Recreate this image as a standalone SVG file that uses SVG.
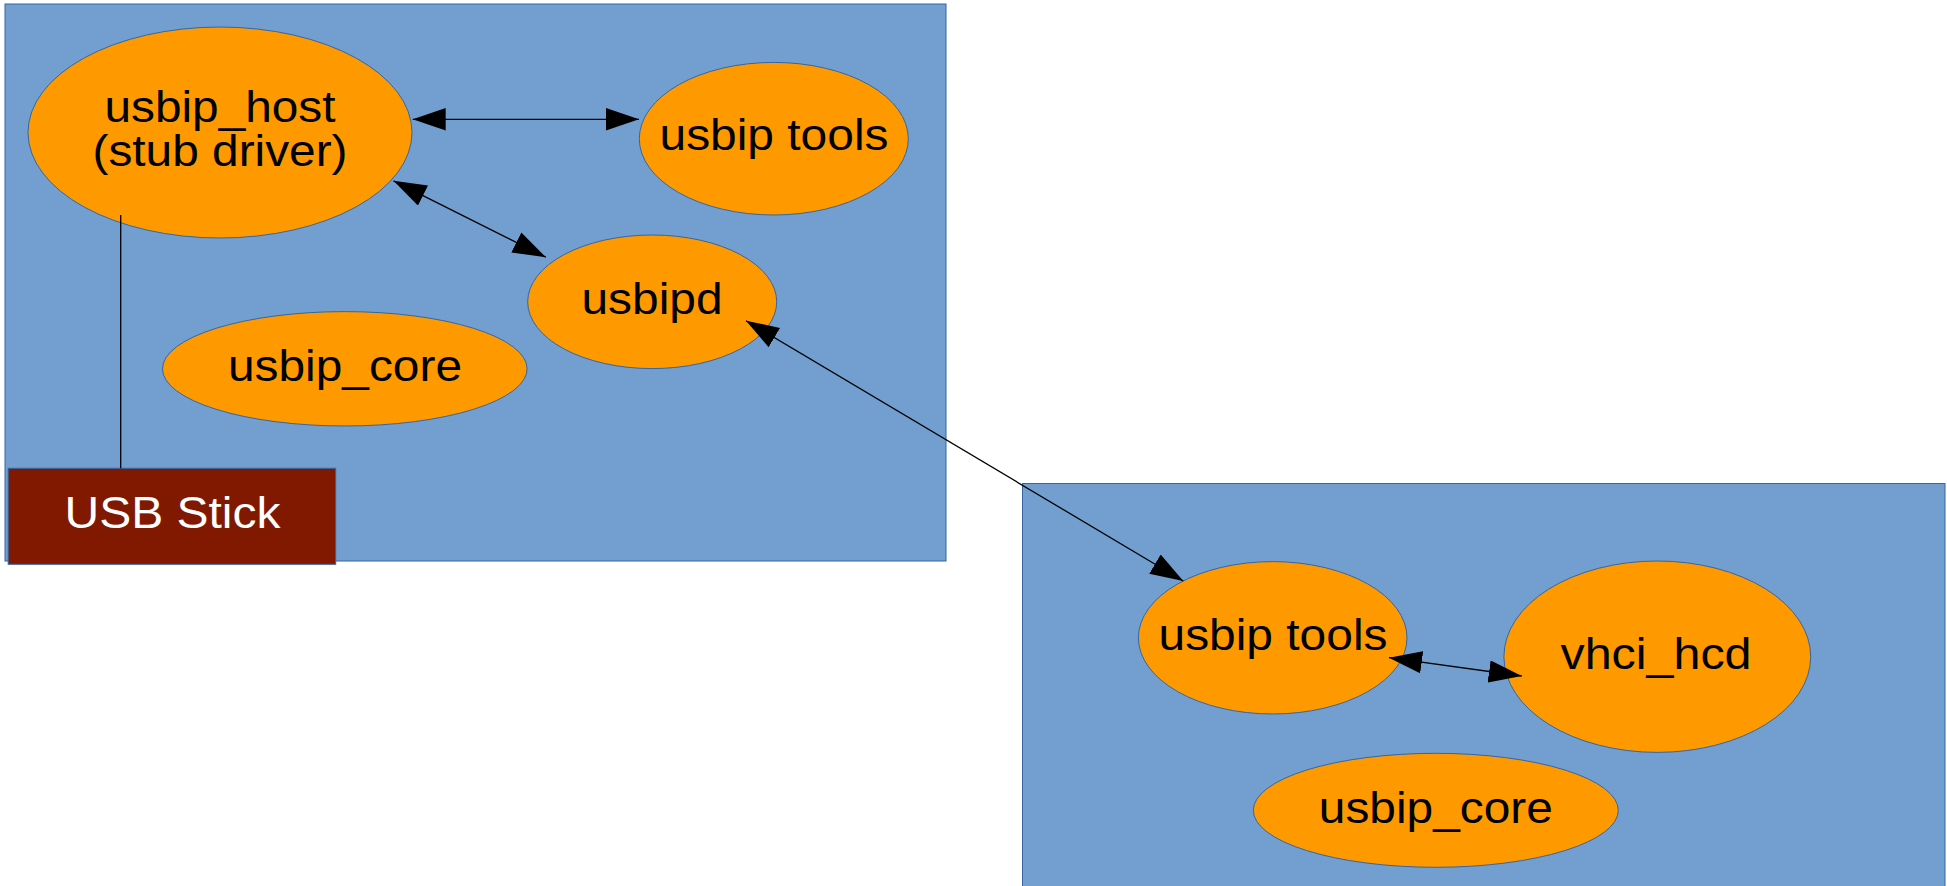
<svg xmlns="http://www.w3.org/2000/svg" width="1947" height="886" viewBox="0 0 1947 886">
  <style>
    .host { fill: #729fcf; stroke: #3465a4; stroke-width: 1; }
    .mod { fill: #ff9900; stroke: #3465a4; stroke-width: 1; }
    .dev { fill: #801900; stroke: #3465a4; stroke-width: 1; }
    .lbl { font-family: "Liberation Sans", Arial, sans-serif; font-size: 45px; fill: #000000; text-anchor: middle; }
    .lbl-w { fill: #ffffff; }
    .edge { stroke: #000000; stroke-width: 1.3; fill: none; }
  </style>
  <defs>
    <marker id="ah" markerUnits="userSpaceOnUse" markerWidth="34" markerHeight="23" refX="33" refY="11.2" orient="auto-start-reverse" viewBox="0 0 34 23">
      <path d="M0,0 L33,11.2 L0,22.4 z" fill="#000000"/>
    </marker>
  </defs>

  <!-- server machine -->
  <g id="server-host">
    <rect class="host" x="5" y="4" width="941" height="557"/>
  </g>
  <!-- client machine -->
  <g id="client-host">
    <rect class="host" x="1022.5" y="483.5" width="922.5" height="410"/>
  </g>

  <g id="usbip-host">
    <ellipse class="mod" cx="220" cy="132.5" rx="192" ry="105.5"/>
    <text class="lbl" x="220" y="122" textLength="231" lengthAdjust="spacingAndGlyphs">usbip_host</text>
    <text class="lbl" x="220" y="166" textLength="255" lengthAdjust="spacingAndGlyphs">(stub driver)</text>
  </g>

  <g id="usbip-tools-server">
    <ellipse class="mod" cx="773.8" cy="138.7" rx="134.5" ry="76.3"/>
    <text class="lbl" x="774" y="150" textLength="229" lengthAdjust="spacingAndGlyphs">usbip tools</text>
  </g>

  <g id="usbipd">
    <ellipse class="mod" cx="652.2" cy="301.8" rx="124.5" ry="66.8"/>
    <text class="lbl" x="652" y="314" textLength="141" lengthAdjust="spacingAndGlyphs">usbipd</text>
  </g>

  <g id="usbip-core-server">
    <ellipse class="mod" cx="344.8" cy="368.8" rx="182.3" ry="57.2"/>
    <text class="lbl" x="345" y="381" textLength="234" lengthAdjust="spacingAndGlyphs">usbip_core</text>
  </g>

  <g id="usb-stick">
    <rect class="dev" x="8.2" y="468.3" width="327.5" height="96"/>
    <text class="lbl lbl-w" x="172.5" y="528.3" textLength="216" lengthAdjust="spacingAndGlyphs">USB Stick</text>
  </g>

  <g id="usbip-tools-client">
    <ellipse class="mod" cx="1272.7" cy="637.8" rx="134.3" ry="76.2"/>
    <text class="lbl" x="1273" y="650" textLength="229" lengthAdjust="spacingAndGlyphs">usbip tools</text>
  </g>

  <g id="vhci-hcd">
    <ellipse class="mod" cx="1657.3" cy="656.7" rx="153.4" ry="95.7"/>
    <text class="lbl" x="1656" y="669" textLength="191" lengthAdjust="spacingAndGlyphs">vhci_hcd</text>
  </g>

  <g id="usbip-core-client">
    <ellipse class="mod" cx="1435.8" cy="810.3" rx="182.5" ry="57"/>
    <text class="lbl" x="1435.8" y="822.7" textLength="234" lengthAdjust="spacingAndGlyphs">usbip_core</text>
  </g>

  <!-- connectors -->
  <g id="connectors">
    <line class="edge" x1="120.7" y1="215" x2="120.7" y2="468.3"/>
    <line class="edge" x1="412.7" y1="119.3" x2="639" y2="119.3" marker-start="url(#ah)" marker-end="url(#ah)"/>
    <line class="edge" x1="393.5" y1="180.8" x2="545.8" y2="257.2" marker-start="url(#ah)" marker-end="url(#ah)"/>
    <line class="edge" x1="746" y1="320.7" x2="1183.3" y2="581" marker-start="url(#ah)" marker-end="url(#ah)"/>
    <line class="edge" x1="1389" y1="657.7" x2="1521.8" y2="676" marker-start="url(#ah)" marker-end="url(#ah)"/>
  </g>
</svg>
